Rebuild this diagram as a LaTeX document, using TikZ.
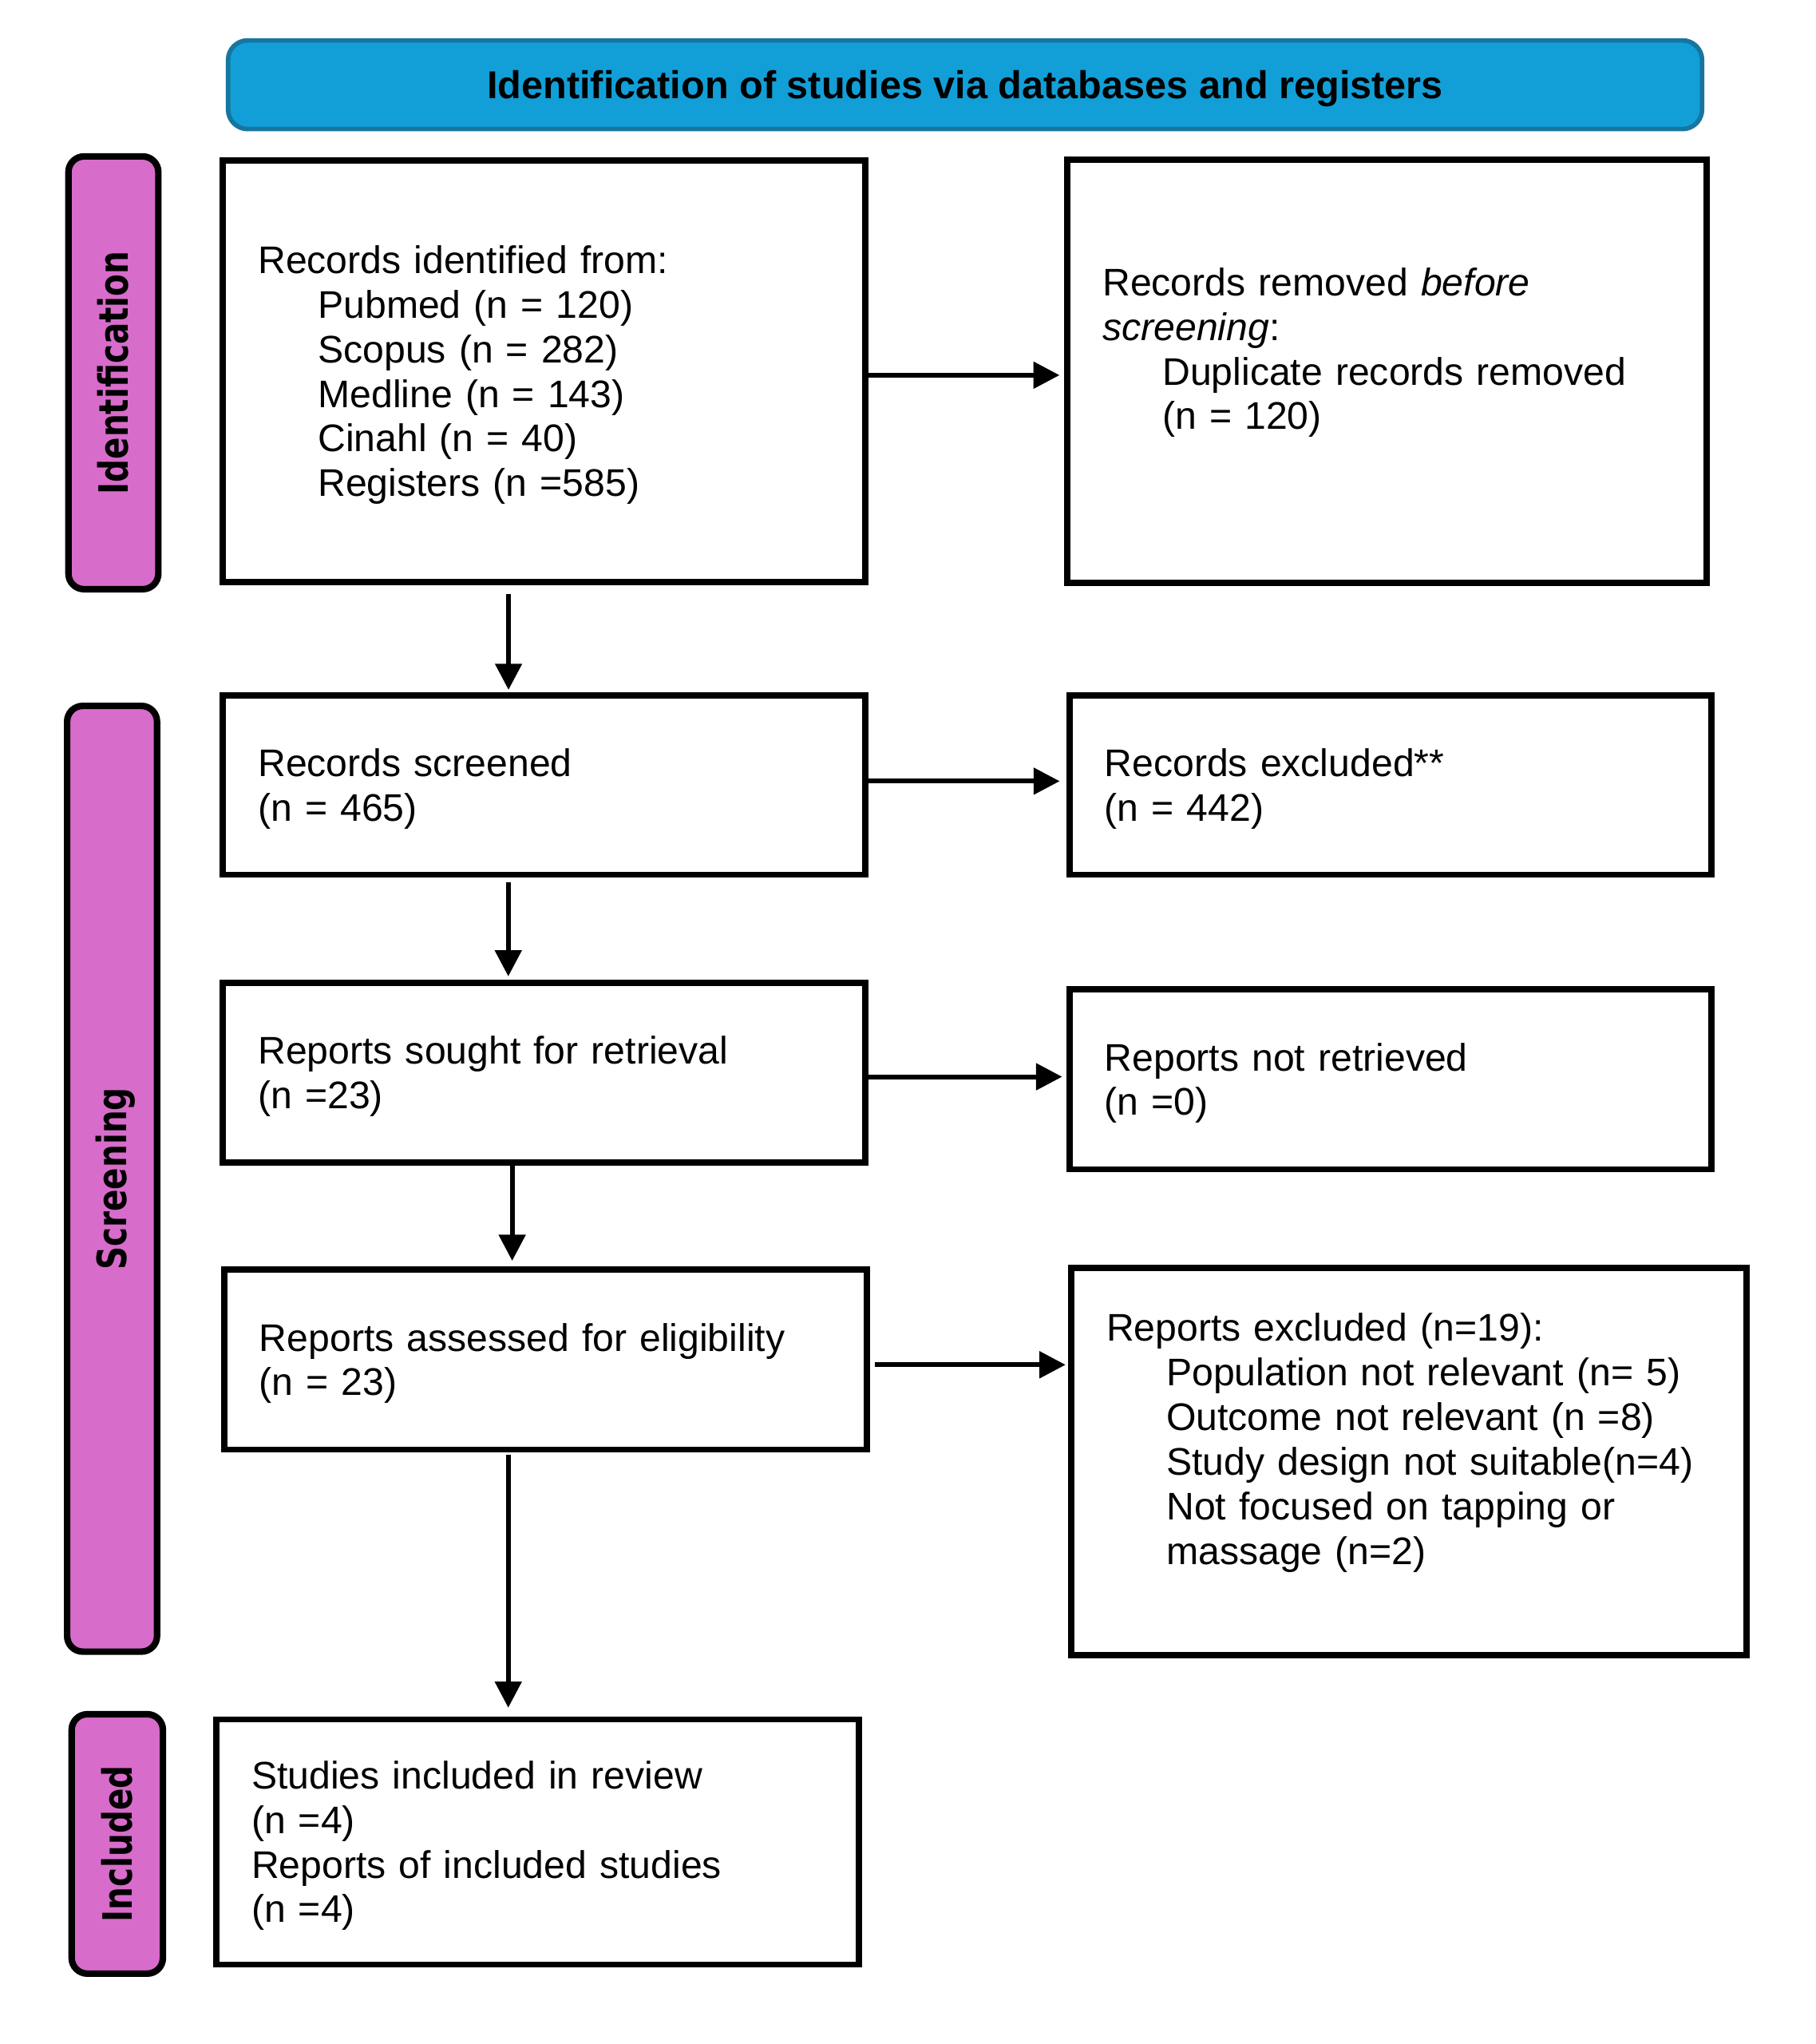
\documentclass[tikz,border=0pt]{standalone}
\usepackage{fontspec}
\setmainfont{Liberation Sans}
\newfontfamily\labfont{DejaVu Sans}
\usetikzlibrary{arrows.meta}
\definecolor{hdrfill}{RGB}{18,159,215}
\definecolor{hdrline}{RGB}{22,118,160}
\definecolor{pinkfill}{RGB}{215,108,203}
\newcommand\lstrut{\rule[-6.55pt]{0pt}{34.2pt}}
\newcommand\ind{\hspace*{46pt}}
\begin{document}
\begin{tikzpicture}[x=1pt,y=-1pt,
  box/.style={draw=black, line width=4.8pt, fill=white, rectangle,
    inner xsep=27pt, inner ysep=0pt, align=left,
    font=\fontsize{29.5pt}{34.2pt}\selectfont},
  lab/.style={draw=black, line width=5pt, fill=pinkfill, rounded corners=12pt,
    rotate=90, inner sep=0pt, text height=22.6pt, text depth=0pt,
    font=\labfont\bfseries\fontsize{31pt}{36pt}\selectfont},
  hdr/.style={draw=hdrline, line width=3.5pt, fill=hdrfill, rounded corners=15pt,
    inner sep=0pt, text height=21pt, text depth=0pt,
    font=\bfseries\fontsize{29.8pt}{34pt}\selectfont},
  arr/.style={line width=3.6pt, -{Triangle[length=20pt,width=20pt]}},
]
\useasboundingbox (0,0) rectangle (1393,1568);

% header
\node[hdr, minimum width=1131pt, minimum height=68pt] (hdr) at (740.5,65)
  {Identification of studies via databases and registers};

% side labels
\node[lab, minimum width=332pt, minimum height=69pt] (L1) at (87,286)
  {\scalebox{0.8}[1]{Identification}};
\node[lab, minimum width=725.5pt, minimum height=69pt] (L2) at (86,904.25)
  {\scalebox{0.8}[1]{Screening}};
\node[lab, minimum width=199pt, minimum height=70pt] (L3) at (90,1414.5)
  {\scalebox{0.8}[1]{Included}};

% boxes
\node[box, text width=439pt, minimum height=323.6pt] (b1) at (417.5,284.8)
  {\lstrut Records identified from:\\
   \lstrut\ind Pubmed (n = 120)\\
   \lstrut\ind Scopus (n = 282)\\
   \lstrut\ind Medline (n = 143)\\
   \lstrut\ind Cinahl (n = 40)\\
   \lstrut\ind Registers (n =585)};
\node[box, text width=436.5pt, minimum height=324.5pt] (b2) at (1064.25,284.75)
  {\lstrut Records removed \textit{before}\\
   \lstrut\textit{screening}:\\
   \lstrut\ind Duplicate records removed\\
   \lstrut\ind (n = 120)\\
   \lstrut};
\node[box, text width=439pt, minimum height=137.5pt] (b3) at (417.5,602.25)
  {\lstrut Records screened\\
   \lstrut (n = 465)};
\node[box, text width=438.5pt, minimum height=137.5pt] (b4) at (1066.75,602.25)
  {\lstrut Records excluded**\\
   \lstrut (n = 442)};
\node[box, text width=439pt, minimum height=137.7pt] (b5) at (417.5,822.85)
  {\lstrut Reports sought for retrieval\\
   \lstrut (n =23)};
\node[box, text width=438.5pt, minimum height=138pt] (b6) at (1066.75,828)
  {\lstrut Reports not retrieved\\
   \lstrut (n =0)};
\node[box, text width=439pt, minimum height=138.1pt] (b7) at (418.5,1042.95)
  {\lstrut Reports assessed for eligibility\\
   \lstrut (n = 23)};
\node[box, text width=464pt, minimum height=297pt] (b8) at (1081,1121)
  {\lstrut Reports excluded (n=19):\\
   \lstrut\ind Population not relevant (n= 5)\\
   \lstrut\ind Outcome not relevant (n =8)\\
   \lstrut\ind Study design not suitable(n=4)\\
   \lstrut\ind Not focused on tapping or\\
   \lstrut\ind massage (n=2)\\
   \lstrut};
\node[box, text width=439pt, minimum height=188pt] (b9) at (412.5,1413)
  {\lstrut Studies included in review\\
   \lstrut (n =4)\\
   \lstrut Reports of included studies\\
   \lstrut (n =4)};

% horizontal connectors
\coordinate (s12) at ([yshift=-3pt]b1.east);
\draw[arr, shorten >=3.6pt] (s12) -- (s12 -| b2.west);
\coordinate (s34) at ([yshift=3pt]b3.east);
\draw[arr, shorten >=5pt] (s34) -- (s34 -| b4.west);
\coordinate (s56) at ([yshift=-3.15pt]b5.east);
\draw[arr, shorten >=3.1pt] (s56) -- (s56 -| b6.west);
\coordinate (s78) at ([yshift=-4pt]b7.east);
\draw[arr, shorten <=3.6pt, shorten >=2pt] (s78) -- (s78 -| b8.west);

% vertical connectors
\coordinate (s13) at ([xshift=-27.3pt]b1.south);
\draw[arr, shorten <=6.7pt, shorten >=1.9pt] (s13) -- (s13 |- b3.north);
\coordinate (s35) at ([xshift=-27.5pt]b3.south);
\draw[arr, shorten <=3.6pt, shorten >=2.6pt] (s35) -- (s35 |- b5.north);
\coordinate (s57) at ([xshift=-24.5pt]b5.south);
\draw[arr, shorten >=4.3pt] (s57) -- (s57 |- b7.north);
\coordinate (s79) at ([xshift=-28.5pt]b7.south);
\draw[arr, shorten <=1.6pt, shorten >=6.6pt] (s79) -- (s79 |- b9.north);
\end{tikzpicture}
\end{document}
